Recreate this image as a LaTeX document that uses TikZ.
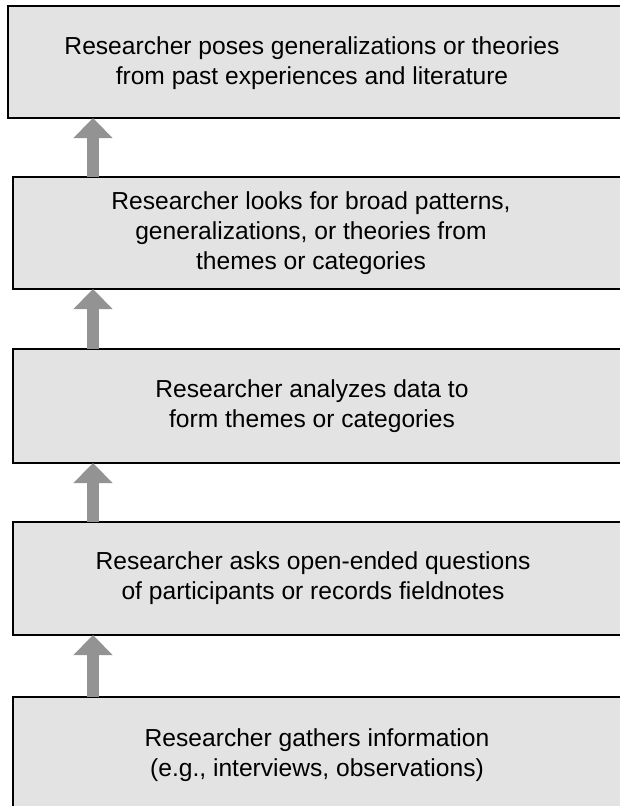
\documentclass[tikz,border=0pt]{standalone}
\usepackage{fontspec}
\setmainfont{Liberation Sans}
\usetikzlibrary{arrows.meta}
\definecolor{boxfill}{HTML}{E3E3E3}
\definecolor{arrowgray}{HTML}{939393}
\begin{document}
\begin{tikzpicture}[x=1pt,y=-1pt,
  stagebox/.style={draw=black, line width=2pt, fill=boxfill, rectangle,
    anchor=north west, minimum width=640pt, inner sep=0pt, outer sep=0pt},
  stagetext/.style={align=center, inner sep=0pt,
    font=\fontsize{24.6pt}{29.8pt}\selectfont},
  uparrow/.style={draw=arrowgray, line width=12pt,
    -{Triangle[width=38pt,length=20pt]}}]
\useasboundingbox (0,0) rectangle (620,806);
% stacked stage boxes, right edges run past the page
\node[stagebox, minimum height=112pt] (b1) at (8,6) {};
\node[stagebox, minimum height=112pt] (b2) at (13,177) {};
\node[stagebox, minimum height=114pt] (b3) at (13,349) {};
\node[stagebox, minimum height=113pt] (b4) at (13,522) {};
\node[stagebox, minimum height=114pt] (b5) at (13,697) {};
% captions
\node[stagetext] (t1) at (312,63) {Researcher poses generalizations or theories\\from past experiences and literature};
\node[stagetext] (t2) at (311,233) {Researcher looks for broad patterns,\\generalizations, or theories from\\themes or categories};
\node[stagetext] (t3) at (312,406) {Researcher analyzes data to\\form themes or categories};
\node[stagetext] (t4) at (313,578) {Researcher asks open-ended questions\\of participants or records fieldnotes};
\node[stagetext] (t5) at (317,755) {Researcher gathers information\\(e.g., interviews, observations)};
% upward arrows between stages
\coordinate (ax) at (93,0);
\draw[uparrow] (ax |- b2.north) -- (ax |- b1.south);
\draw[uparrow] (ax |- b3.north) -- (ax |- b2.south);
\draw[uparrow] (ax |- b4.north) -- (ax |- b3.south);
\draw[uparrow] (ax |- b5.north) -- (ax |- b4.south);
\end{tikzpicture}
\end{document}
